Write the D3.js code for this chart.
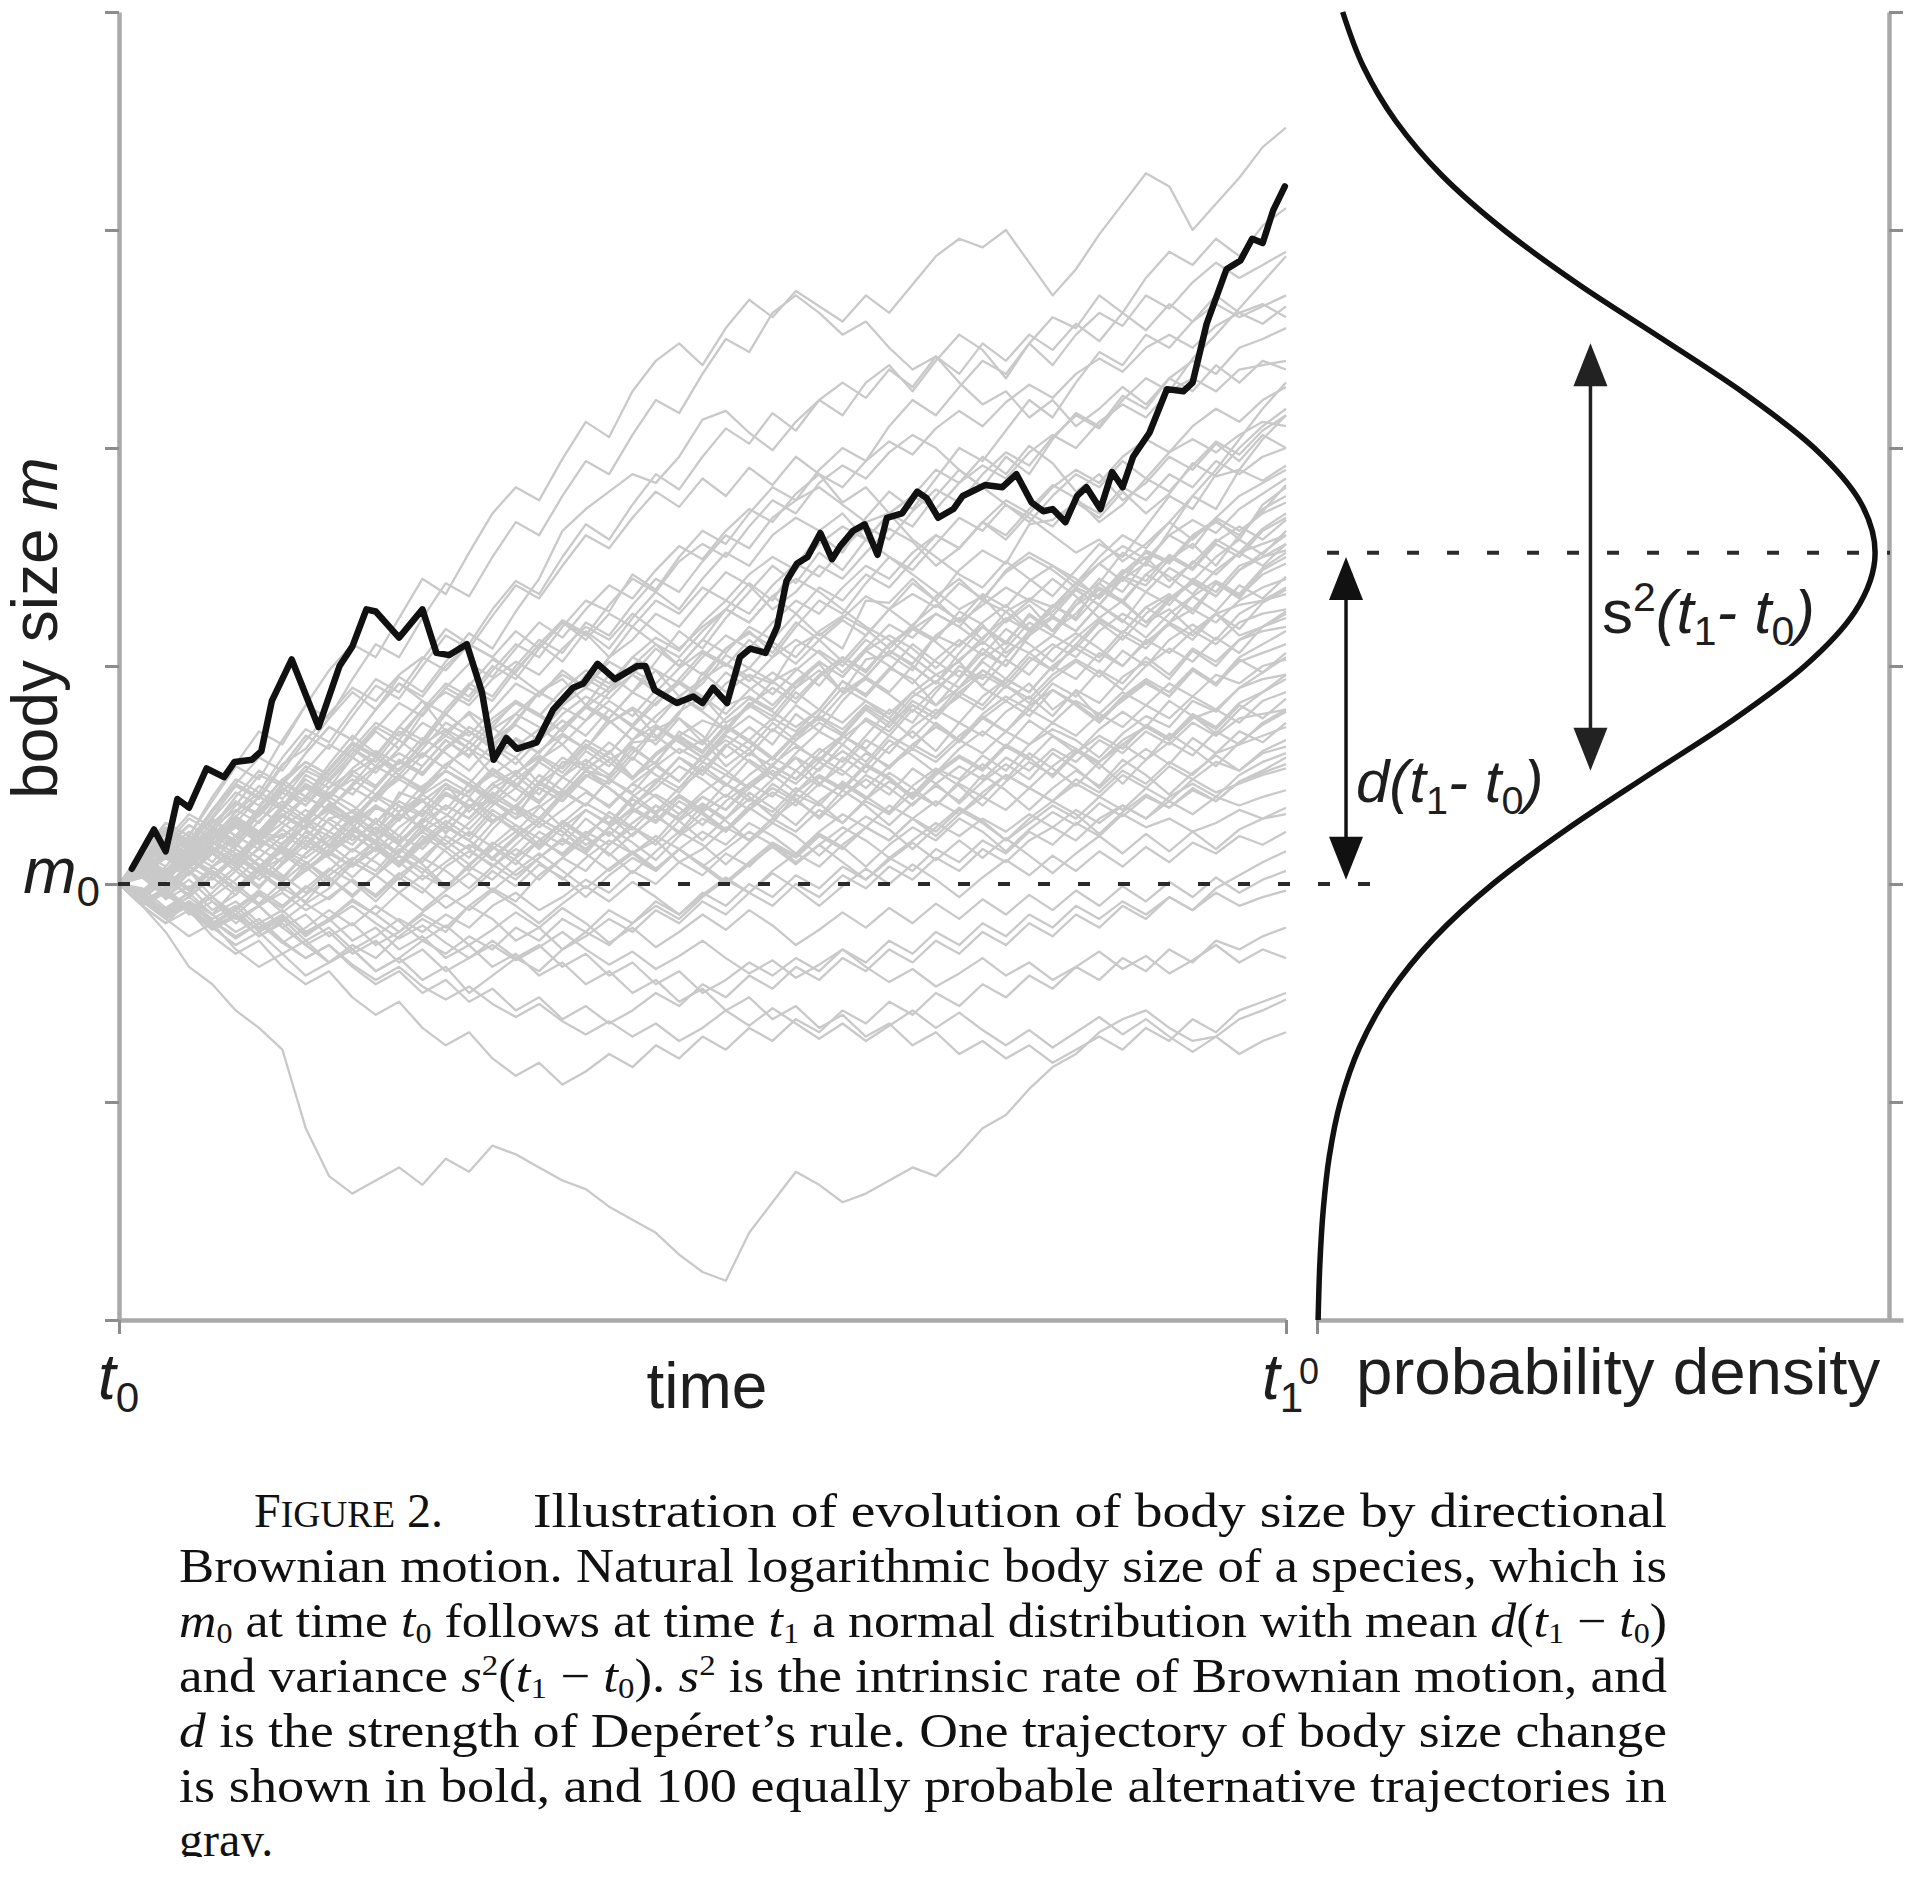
<!DOCTYPE html>
<html><head><meta charset="utf-8">
<script src="https://cdn.jsdelivr.net/npm/d3@7/dist/d3.min.js"></script>
<style>html,body{margin:0;padding:0;background:#fff;} svg{display:block;} text{white-space:pre;}</style>
</head><body>
<svg id="chart" width="1912" height="1888"></svg>
<script>
// ---------------- DATA ----------------
const yTickValues = [-200, -100, 0, 100, 200, 300, 400];
const xTickValues = [0, 100];
const m0Value = 0;
const meanValue = 152;
const sdValue = 96;

const boldTime = [1.1,3.0,4.0,5.0,6.0,7.5,9.0,9.9,11.4,12.2,13.1,14.8,17.1,18.9,20.0,21.2,22.0,24.0,26.0,27.2,28.3,29.8,31.1,32.1,33.2,34.1,35.8,37.2,38.9,39.8,41.0,42.5,44.4,45.1,45.9,47.8,49.2,50.0,50.9,52.1,53.2,54.1,55.4,56.4,57.2,58.1,59.0,60.1,61.1,61.8,62.9,63.9,65.0,65.8,67.1,68.4,69.2,70.2,71.5,72.3,74.2,75.7,76.9,78.2,79.2,80.0,81.1,82.1,82.9,84.1,85.1,86.0,86.9,88.3,89.8,91.2,92.0,93.2,94.9,96.1,97.1,98.0,98.9,99.9];
const boldSize = [7,25,15,39,35,53,49,56,57,61,84,103,72,100,109,126,125,113,126,106,105,110,88,57,67,62,65,80,90,92,101,94,100,100,89,83,86,83,90,83,104,108,106,118,139,147,150,161,149,155,162,165,151,168,170,180,177,168,172,178,183,182,188,175,171,172,166,178,182,172,189,182,196,207,227,226,230,257,282,286,296,294,309,320];

const grayTime = [0,2,4,6,8,10,12,14,16,18,20,22,24,26,28,30,32,34,36,38,40,42,44,46,48,50,52,54,56,58,60,62,64,66,68,70,72,74,76,78,80,82,84,86,88,90,92,94,96,98,100];
const graySizes = [
 [0,15,28,22,40,55,70,64,82,98,110,104,122,140,133,152,170,182,176,195,212,205,226,240,248,238,255,268,260,272,265,258,270,262,275,288,296,292,300,285,270,282,298,312,326,320,300,312,324,338,347],
 [0,8,18,30,24,36,50,45,60,72,66,80,95,88,102,115,108,125,140,162,172,180,188,184,196,213,217,207,199,212,222,215,230,238,226,240,252,245,232,248,260,255,270,262,278,290,284,296,288,302,310],
 [0,-5,8,20,14,28,40,35,50,44,58,70,62,78,90,84,98,110,104,118,130,125,142,135,150,162,156,170,182,176,190,200,194,210,222,215,228,240,234,248,238,252,262,256,270,264,276,285,278,284,290],
 [0,10,4,18,30,22,35,48,40,55,68,60,52,65,78,70,62,75,88,96,90,104,118,110,100,112,126,138,130,146,160,152,168,180,172,186,200,194,208,222,214,230,244,238,252,246,258,266,260,265,270],
 [0,6,-4,5,16,10,24,18,30,42,36,28,40,54,66,58,72,84,78,70,82,96,88,102,116,108,122,134,146,138,152,144,158,170,164,178,190,182,196,188,204,216,210,224,218,232,240,234,246,250,255],
 [0,14,26,20,34,46,58,52,66,78,90,84,96,104,98,110,104,116,108,120,112,124,118,130,124,136,130,142,150,144,156,164,158,170,178,172,184,192,186,198,206,200,212,220,214,226,232,226,236,238,240],
 [0,-8,-2,-12,-4,6,-2,10,20,14,26,36,30,42,52,46,58,66,60,72,82,76,88,98,92,104,114,108,120,130,124,136,146,140,152,160,154,166,176,170,182,190,184,196,204,198,210,218,212,222,228],
 [0,9,20,12,26,18,32,44,38,52,64,58,72,66,80,92,86,100,112,106,120,114,128,140,134,148,160,154,168,176,182,174,166,170,158,150,142,136,148,140,132,144,156,150,164,178,172,188,200,210,218],
 [0,-10,-18,-8,-14,-2,8,2,14,24,18,30,22,34,46,40,52,44,56,68,62,76,88,82,94,106,100,112,104,118,130,124,138,150,144,156,168,162,174,166,178,188,182,194,186,198,204,198,206,212,210],
 [0,12,6,18,10,22,34,28,40,34,46,58,50,62,74,68,80,92,86,98,90,102,96,108,100,112,106,118,112,124,136,130,142,136,148,160,154,166,158,170,164,176,170,182,176,188,182,194,188,196,200],
 [0,7,-4,11,15,6,24,21,31,17,23,35,30,39,23,36,38,30,47,41,52,49,65,66,78,97,88,96,92,109,115,108,130,129,140,130,144,153,147,165,167,175,168,180,170,179,193,187,190,185,192],
 [0,-6,7,5,14,30,18,23,16,30,33,23,42,38,46,33,44,50,41,56,55,65,57,71,76,65,82,86,80,92,101,88,103,105,98,114,122,112,125,131,127,138,147,139,153,148,160,167,158,174,182],
 [0,11,24,18,33,46,40,55,62,76,88,80,92,84,70,78,66,74,88,82,96,90,104,98,86,94,108,116,106,120,112,102,114,126,118,132,140,130,144,152,146,138,150,160,154,166,158,168,162,170,175],
 [0,4,-7,-1,-12,-5,6,-3,9,18,10,4,15,27,20,12,25,36,30,41,52,44,35,47,58,50,63,72,64,78,70,84,95,88,100,92,106,118,110,124,116,130,138,129,142,150,144,156,150,162,168],
 [0,9,2,15,26,20,32,44,36,50,62,56,70,64,78,90,84,98,110,102,116,108,122,134,126,140,152,146,160,168,162,170,158,150,142,134,126,132,120,128,116,124,136,130,142,136,148,142,152,156,160],
 [0,-4,5,-3,8,16,9,3,14,22,15,26,19,30,24,35,46,38,50,43,55,48,60,72,65,58,70,82,75,88,80,93,86,98,110,102,95,108,100,114,122,116,128,120,134,128,140,134,146,150,153],
 [0,7,15,9,20,14,6,12,24,18,30,22,14,25,36,30,42,35,28,40,52,46,58,50,44,56,68,62,74,66,78,90,84,76,88,96,90,102,94,106,114,108,120,112,124,132,126,138,132,142,147],
 [0,12,20,32,26,40,52,46,60,72,66,80,92,86,100,110,104,96,88,94,82,74,80,68,60,66,54,62,50,58,46,54,66,60,72,80,74,86,94,88,100,108,102,114,108,120,126,120,130,136,140],
 [0,-9,-3,-14,-8,-18,-10,-2,-8,4,12,6,18,10,22,16,28,36,30,42,36,48,42,54,62,56,50,60,54,66,74,68,80,72,84,78,90,98,92,104,98,110,104,116,110,120,114,124,128,130,133],
 [0,5,12,6,-2,8,16,10,22,14,26,20,32,26,18,28,38,32,44,38,50,44,36,46,58,52,64,56,48,60,70,64,76,70,82,76,88,82,94,88,100,94,106,100,112,106,116,110,120,124,126],
 [0,8,-2,6,-6,2,12,4,-4,6,16,10,2,12,22,16,8,18,28,22,34,28,40,48,42,54,46,38,48,58,52,64,56,68,62,74,66,78,86,80,92,86,98,92,104,96,108,102,112,116,118],
 [0,6,14,8,18,28,22,34,28,40,50,44,56,50,62,72,66,78,88,82,94,88,100,110,104,116,126,120,132,140,134,126,118,112,104,96,102,90,84,92,80,88,76,84,92,86,98,92,102,106,110],
 [0,-6,-14,-8,-16,-10,-20,-14,-24,-16,-8,-14,-4,4,-2,8,2,12,20,14,24,18,28,36,30,40,34,44,52,46,56,50,60,54,64,58,68,76,70,80,74,84,78,88,82,92,86,96,92,100,103],
 [0,10,4,14,8,18,12,22,30,24,34,28,20,28,36,30,40,34,26,34,42,36,46,40,32,42,50,44,54,48,58,52,44,54,62,56,66,60,70,64,74,68,78,72,82,76,86,80,90,94,96],
 [0,-8,-2,-12,-20,-14,-24,-18,-28,-36,-30,-40,-34,-44,-38,-50,-42,-34,-40,-30,-22,-28,-18,-10,-16,-6,2,-4,6,14,8,18,26,20,30,38,32,42,50,44,54,62,56,66,72,66,76,80,74,84,88],
 [0,7,14,8,16,10,20,14,6,14,22,16,8,18,26,20,12,22,30,24,16,26,34,28,38,32,24,34,42,36,46,40,50,44,36,46,54,48,58,52,62,56,66,60,70,64,74,68,76,78,80],
 [0,-5,4,-3,6,-2,-10,-4,-12,-6,2,-6,4,12,6,-2,8,16,10,2,12,20,14,6,16,24,18,28,22,14,24,32,26,36,30,22,32,40,34,44,38,48,42,52,46,56,50,60,64,68,72],
 [0,9,16,10,20,28,22,32,26,36,30,40,48,42,52,46,38,30,36,26,18,24,14,20,10,16,26,20,30,24,34,28,38,32,42,36,46,40,50,44,38,46,40,50,44,54,48,56,52,60,63],
 [0,-7,-14,-8,-18,-12,-22,-16,-26,-20,-30,-24,-16,-22,-14,-20,-10,-4,-12,-6,2,-4,6,0,10,4,14,8,18,12,22,16,26,20,30,24,34,28,20,28,36,30,40,34,44,38,48,42,46,50,53],
 [0,6,-2,8,2,12,6,-2,6,14,8,16,10,2,10,18,12,4,12,20,14,6,14,22,16,8,16,24,18,10,18,26,20,12,20,28,22,30,24,32,26,34,28,36,30,38,32,40,36,40,43],
 [0,-8,-16,-10,-20,-28,-22,-32,-26,-36,-30,-40,-34,-26,-32,-24,-30,-20,-26,-16,-22,-12,-18,-8,-14,-4,-10,0,-6,4,-2,8,2,12,6,16,10,20,14,24,18,28,22,32,26,30,24,28,34,30,32],
 [0,-6,-12,-4,-14,-22,-16,-26,-34,-28,-38,-46,-40,-50,-44,-54,-48,-58,-52,-62,-56,-64,-58,-50,-56,-46,-52,-42,-48,-38,-44,-34,-40,-30,-36,-26,-32,-22,-28,-18,-24,-14,-20,-10,-16,-6,-12,-2,4,10,15],
 [0,5,-4,-12,-6,-16,-10,-20,-28,-22,-32,-26,-36,-30,-40,-34,-26,-34,-28,-38,-32,-42,-36,-46,-40,-50,-44,-36,-42,-34,-40,-30,-36,-26,-32,-22,-28,-18,-24,-14,-20,-10,-16,-8,-14,-6,-12,-4,-10,-6,-3],
 [0,-10,-18,-12,-24,-32,-26,-38,-46,-40,-52,-60,-54,-66,-74,-68,-80,-88,-82,-92,-86,-78,-84,-74,-80,-70,-76,-66,-72,-62,-68,-58,-64,-54,-60,-50,-56,-46,-52,-42,-48,-38,-44,-34,-40,-30,-36,-26,-30,-24,-20],
 [0,-4,-12,-6,-14,-8,-18,-12,-22,-16,-26,-20,-30,-24,-34,-28,-38,-32,-42,-36,-46,-40,-50,-44,-54,-48,-58,-52,-62,-56,-66,-60,-70,-64,-74,-68,-78,-72,-80,-74,-82,-76,-70,-76,-66,-72,-62,-68,-58,-54,-50],
 [0,-10,-22,-38,-46,-58,-66,-76,-112,-134,-142,-136,-130,-138,-126,-132,-120,-124,-130,-136,-140,-148,-154,-160,-170,-178,-182,-160,-146,-132,-138,-146,-142,-136,-130,-134,-124,-112,-106,-94,-84,-78,-68,-62,-58,-66,-72,-70,-62,-58,-53],
 [0,8,18,12,26,34,28,42,54,48,60,72,66,80,92,86,100,94,108,120,114,128,140,134,148,156,150,164,176,170,184,192,186,198,206,200,190,182,174,168,160,152,158,148,156,166,178,190,204,218,230],
 [0,6,12,4,14,22,16,26,34,28,20,28,38,32,42,36,28,36,46,40,50,44,36,44,54,48,40,50,58,52,62,56,68,80,74,88,100,94,108,120,114,128,140,134,148,160,154,168,178,184,190],
 [0,-8,-16,-24,-18,-30,-38,-32,-42,-36,-28,-34,-24,-16,-22,-10,-2,-8,4,12,6,18,26,20,32,40,34,46,54,48,60,68,62,74,82,76,88,96,90,102,110,104,116,124,118,130,138,132,144,152,160],
 [0,10,20,14,26,38,32,46,56,50,62,74,68,80,88,82,94,102,96,108,118,112,124,116,108,118,126,120,132,124,114,122,132,126,138,130,120,128,136,130,140,132,122,130,120,126,116,124,114,118,122],
 [0,4,-6,2,-8,-16,-10,-20,-14,-24,-18,-28,-22,-14,-20,-10,-16,-26,-20,-30,-24,-16,-22,-12,-18,-8,-14,-4,-10,0,-6,4,-2,8,2,12,6,16,10,20,26,20,30,36,30,40,46,40,50,56,60],
 [0,12,24,18,30,42,36,48,56,50,62,54,66,58,70,62,50,58,46,54,66,60,72,64,76,68,58,66,76,70,80,74,84,78,88,82,94,106,100,114,128,122,138,152,146,162,178,172,190,204,215],
 [0,9,3,-5,8,14,6,19,27,22,15,24,36,31,44,40,29,35,47,58,52,61,49,56,68,75,71,83,77,90,98,88,95,107,101,114,109,120,128,117,125,136,131,142,150,139,147,158,152,163,170],
 [0,-7,2,11,5,-3,4,17,12,20,31,25,18,29,41,35,46,52,44,38,49,57,63,55,70,64,76,85,79,72,80,93,87,99,94,82,90,103,111,106,98,110,121,115,127,133,124,138,131,144,150],
 [0,13,6,17,25,19,8,15,27,34,29,41,36,24,31,43,50,45,57,64,53,60,72,67,79,86,74,81,93,99,91,104,97,110,118,112,125,119,106,114,127,135,128,141,137,149,156,146,160,172,178],
 [0,-4,-13,-6,3,-5,7,1,-9,-2,10,4,16,9,-1,8,19,13,24,18,30,22,33,41,35,27,38,46,40,52,45,58,51,63,70,61,74,68,79,86,77,89,83,95,102,94,107,100,112,118,125],
 [0,6,15,24,18,29,23,35,46,40,33,44,57,51,63,70,64,58,69,81,75,88,96,90,83,92,105,99,111,104,116,123,117,108,119,128,121,133,127,139,146,140,131,143,152,147,159,166,160,171,183],
 [0,-9,-3,-12,-20,-14,-5,-11,-2,7,1,-8,3,-4,8,15,9,2,12,21,14,26,19,11,22,30,24,35,28,41,36,47,40,33,45,53,48,59,52,64,71,66,58,69,77,72,84,79,90,97,104],
 [0,11,21,16,28,37,31,43,52,47,58,51,62,74,68,79,72,63,71,82,90,85,96,88,99,107,101,93,104,112,106,97,108,119,113,124,118,130,125,116,127,138,132,144,139,151,145,157,164,158,167],
 [0,3,-6,5,14,8,-1,9,18,12,3,13,22,16,27,20,11,21,30,24,15,26,35,29,40,33,25,36,44,38,49,43,54,48,39,50,58,52,63,57,68,62,53,64,72,66,77,71,82,76,85],
 [0,8,1,12,20,29,23,16,27,35,44,38,50,43,55,62,56,67,60,72,81,75,66,77,86,80,92,99,93,85,96,104,98,110,117,111,102,113,122,116,128,121,133,140,134,145,139,150,158,151,162],
 [0,-5,4,12,6,-2,7,16,10,1,11,20,14,24,17,9,18,27,21,13,23,31,25,36,29,20,30,39,33,44,37,28,39,47,41,52,45,36,47,56,50,61,55,46,57,65,59,70,64,74,80],
 [0,10,18,12,23,31,40,34,45,39,51,58,52,64,71,65,76,84,77,70,81,90,98,92,103,96,108,115,109,101,112,121,114,126,133,127,138,131,143,150,144,136,147,155,149,160,167,161,172,179,186],
 [0,-8,-15,-9,-18,-11,-3,-10,-1,-7,2,-5,5,-2,-11,-4,6,-1,9,3,-6,4,12,6,16,9,1,10,19,13,23,17,8,18,26,20,30,24,15,25,33,27,37,31,40,35,43,38,47,52,58],
 [0,7,14,22,16,9,20,28,21,33,27,19,30,38,32,25,36,44,37,49,43,35,46,54,47,59,52,44,55,63,57,68,61,53,64,72,66,77,70,82,89,83,75,86,94,88,99,92,104,110,116],
 [0,12,5,16,24,17,29,38,31,44,52,45,57,50,62,70,63,55,66,75,68,80,73,85,93,86,78,89,97,90,102,95,107,114,108,99,110,118,111,123,116,128,135,129,120,131,139,132,144,150,156],
 [0,-3,6,-2,8,0,-9,1,10,3,-6,4,13,7,-2,9,17,11,2,12,21,14,5,15,24,18,9,19,28,22,13,23,31,25,16,26,35,29,20,30,38,32,23,33,41,35,44,38,47,51,55],
 [0,9,17,11,21,30,24,36,44,38,30,41,50,44,55,48,40,51,59,53,64,58,49,60,68,61,73,66,58,69,77,71,82,76,67,78,86,80,91,85,96,103,97,89,100,108,102,113,106,118,124],
 [0,-6,3,11,4,13,21,14,6,16,25,19,10,20,29,22,34,27,18,28,37,31,22,32,41,34,46,40,31,42,50,44,55,49,40,51,59,53,64,58,49,60,68,62,73,67,78,72,83,88,94],
 [0,14,8,20,29,22,34,42,36,47,41,53,60,54,66,59,71,78,72,64,75,84,77,89,82,94,101,95,87,98,107,100,112,105,117,124,118,110,121,130,123,135,128,140,147,141,133,144,152,146,156],
 [0,-10,-4,-13,-21,-15,-24,-17,-9,-16,-7,-14,-22,-13,-5,-12,-3,-10,-18,-9,-1,-8,1,-6,-14,-5,3,-4,5,-2,-10,-1,7,0,9,2,-6,3,11,4,13,6,15,8,17,10,19,14,22,18,24],
 [0,5,13,7,18,26,19,31,25,17,28,36,29,41,48,42,53,46,38,49,57,50,62,55,47,58,66,59,71,64,56,67,75,68,80,73,65,76,84,77,89,82,74,85,93,86,98,91,103,97,106],
 [0,8,-1,9,17,10,2,12,20,13,25,18,9,19,27,20,32,25,16,26,34,27,39,32,23,33,41,34,46,39,30,40,48,41,53,46,37,47,55,48,60,53,44,54,62,55,67,60,70,65,74],
 [0,11,4,15,23,31,24,36,29,41,48,41,53,60,53,65,58,50,61,69,62,74,81,74,86,79,71,82,90,83,95,102,95,107,100,92,103,111,104,116,123,116,128,121,113,124,132,125,137,131,141],
 [0,-2,-11,-4,6,-3,7,15,8,-1,9,17,10,22,15,6,16,24,17,29,22,13,23,31,24,36,29,20,30,38,31,43,36,27,37,45,38,50,43,34,44,52,45,57,50,41,51,59,52,61,66],
 [0,6,15,9,19,12,24,32,25,37,30,22,33,41,34,46,39,51,58,51,63,56,48,59,67,60,72,65,57,68,76,69,81,74,86,93,86,98,91,83,94,102,95,107,100,112,119,112,124,130,136],
 [0,-7,-15,-8,-17,-25,-18,-27,-20,-12,-19,-10,-17,-26,-19,-28,-21,-13,-20,-11,-18,-27,-20,-29,-22,-14,-21,-12,-19,-28,-21,-13,-20,-11,-18,-9,-16,-7,-14,-5,-12,-3,-10,-1,-8,1,-6,3,-4,2,6],
 [0,10,3,13,22,16,8,18,27,35,28,40,33,45,52,45,37,48,56,49,61,54,66,73,66,58,69,77,70,82,75,87,94,87,79,90,98,91,103,96,108,115,108,100,111,119,112,124,117,129,135],
 [0,4,12,21,14,6,17,25,18,30,23,15,26,34,27,39,32,24,35,43,36,48,41,33,44,52,45,57,50,42,53,61,54,66,59,51,62,70,63,75,68,60,71,79,72,84,77,69,80,88,96],
 [0,-5,3,-6,4,12,5,-3,7,15,8,20,13,5,16,24,17,9,20,28,21,33,26,18,29,37,30,42,35,27,38,46,39,51,44,36,47,55,48,60,53,45,56,64,57,69,62,54,65,73,79],
 [0,9,18,27,21,33,42,36,48,41,53,61,55,67,60,52,64,73,66,78,86,80,72,83,92,85,97,90,82,93,102,95,107,100,92,103,112,105,117,110,102,113,122,115,127,120,132,139,133,145,152],
 [0,-9,-2,-11,-19,-12,-4,-13,-5,3,-5,4,-4,-12,-3,5,-3,6,14,6,-2,7,15,7,16,8,0,9,17,9,18,10,2,11,19,11,20,12,21,13,5,14,22,14,23,15,24,16,25,30,35],
 [0,12,25,19,34,48,42,58,71,65,80,94,88,103,117,110,126,139,133,150,165,158,174,188,181,196,209,202,216,208,222,230,223,236,228,242,234,248,240,252,245,257,249,262,254,266,258,270,262,266,260],
 [0,14,28,22,38,54,48,66,82,76,94,110,104,122,138,132,150,166,160,178,194,188,206,222,216,234,250,244,262,270,262,252,258,246,236,242,230,220,226,214,222,210,218,228,220,232,226,238,230,240,236],
 [0,6,16,27,21,33,45,39,52,64,58,71,83,77,90,101,95,108,120,113,126,137,131,144,155,149,162,172,166,179,188,182,194,203,197,209,217,210,221,229,223,234,241,235,246,252,246,256,262,257,265],
 [0,11,23,17,31,45,39,54,68,62,77,91,85,100,114,108,123,137,131,146,160,154,168,180,173,186,178,191,183,196,188,175,182,170,178,190,184,196,188,201,193,180,188,176,184,196,190,202,194,206,200],
 [0,5,13,8,18,27,21,31,40,34,45,54,48,59,68,62,74,83,77,89,98,92,104,113,107,120,130,124,137,147,141,154,164,158,171,181,175,188,198,192,205,215,209,222,232,226,241,252,264,276,288],
 [0,9,2,14,26,20,33,46,40,53,65,59,72,84,78,91,103,97,110,121,115,104,112,124,118,131,143,137,126,134,146,140,152,163,157,146,154,166,160,172,183,177,166,174,186,180,192,203,197,208,215],
 [0,-6,-13,-8,-17,-24,-18,-27,-34,-28,-37,-44,-38,-47,-53,-47,-55,-61,-55,-63,-69,-63,-70,-64,-72,-66,-58,-65,-57,-64,-71,-64,-72,-65,-58,-66,-59,-67,-74,-67,-75,-68,-61,-69,-62,-70,-77,-70,-78,-72,-68],
 [0,3,-5,-12,-6,-14,-21,-15,-23,-17,-10,-18,-25,-19,-27,-34,-28,-35,-29,-22,-30,-37,-31,-39,-33,-26,-34,-41,-35,-43,-37,-30,-38,-45,-39,-47,-41,-34,-42,-36,-44,-38,-31,-39,-33,-41,-35,-28,-36,-30,-34]
];

const densityLevels = [-200,-175,-150,-125,-100,-75,-50,-25,0,25,50,75,100,125,152,175,200,225,250,275,300,325,350,375,400];
const densityValues = [0.002,0.005,0.011,0.022,0.042,0.076,0.130,0.209,0.315,0.447,0.594,0.744,0.874,0.964,1.000,0.974,0.891,0.766,0.619,0.469,0.335,0.224,0.141,0.083,0.046];

// ---------------- DRAW ----------------
const svg = d3.select('#chart');
const SANS = '"Liberation Sans", Arial, Helvetica, sans-serif';
const SERIF = '"Liberation Serif", "Times New Roman", serif';
const INK = '#1e1e1e';
const AXIS = '#a9a9a9';

const x = d3.scaleLinear().domain([0, 100]).range([119, 1286]);
const y = d3.scaleLinear().domain([-200, 400]).range([1320, 12]);
const dens = d3.scaleLinear().domain([0, 1.05]).range([1317, 1903]);

function styleAxis(g) {
  g.select('.domain').attr('stroke', AXIS).attr('stroke-width', 4.5);
  g.selectAll('.tick line').attr('stroke', '#8c8c8c').attr('stroke-width', 3);
}

// gray trajectories
const grayLine = d3.line().x((d, i) => x(grayTime[i])).y(d => y(d));
svg.append('g').selectAll('path').data(graySizes).join('path')
  .attr('d', grayLine).attr('fill', 'none')
  .attr('stroke', '#c9c9c9').attr('stroke-width', 2.3).attr('stroke-linejoin', 'round');

// axes left panel
svg.append('g').attr('transform', `translate(${x(0)},0)`)
  .call(d3.axisLeft(y).tickValues(yTickValues).tickSize(14).tickSizeOuter(0).tickFormat(''))
  .call(styleAxis);
svg.append('g').attr('transform', `translate(0,${y(-200)})`)
  .call(d3.axisBottom(x).tickValues(xTickValues).tickSize(14).tickSizeOuter(0).tickFormat(''))
  .call(styleAxis);

// axes right panel
svg.append('g').attr('transform', `translate(1889,0)`)
  .call(d3.axisRight(y).tickValues(yTickValues).tickSize(14).tickSizeOuter(0).tickFormat(''))
  .call(styleAxis);
svg.append('g').attr('transform', `translate(0,${y(-200)})`)
  .call(d3.axisBottom(dens).tickValues([0]).tickSize(14).tickSizeOuter(0).tickFormat(''))
  .call(styleAxis);

// dashed reference lines
svg.append('line')
  .attr('x1', x(0) - 1).attr('x2', dens(0.13)).attr('y1', y(m0Value)).attr('y2', y(m0Value))
  .attr('stroke', '#2a2a2a').attr('stroke-width', 4).attr('stroke-dasharray', '12,28');
svg.append('line')
  .attr('x1', dens(0.018)).attr('x2', 1890).attr('y1', y(meanValue)).attr('y2', y(meanValue))
  .attr('stroke', '#2a2a2a').attr('stroke-width', 4).attr('stroke-dasharray', '12,28');

// bold trajectory
const boldLine = d3.line().x((d, i) => x(boldTime[i])).y(d => y(d));
svg.append('path').datum(boldSize).attr('d', boldLine).attr('fill', 'none')
  .attr('stroke', '#111').attr('stroke-width', 6.5).attr('stroke-linejoin', 'round').attr('stroke-linecap', 'round');

// density curve
const densData = densityLevels.map((v, i) => ({v, p: densityValues[i]}));
svg.append('path').datum(densData)
  .attr('d', d3.line().x(d => dens(d.p)).y(d => y(d.v)).curve(d3.curveMonotoneY))
  .attr('fill', 'none').attr('stroke', '#111').attr('stroke-width', 5.5);

// double arrows
function doubleArrow(px, v1, v2, color) {
  const yTop = y(v2), yBot = y(v1), L = 43, W = 17;
  svg.append('line').attr('x1', px).attr('x2', px).attr('y1', yTop + L - 4).attr('y2', yBot - L + 4)
    .attr('stroke', color).attr('stroke-width', 3.5);
  svg.append('path').attr('d', `M${px},${yTop} L${px - W},${yTop + L} L${px + W},${yTop + L} Z`).attr('fill', color);
  svg.append('path').attr('d', `M${px},${yBot} L${px - W},${yBot - L} L${px + W},${yBot - L} Z`).attr('fill', color);
}
doubleArrow(dens(0.052), m0Value + 2, meanValue - 2, '#111');
doubleArrow(dens(0.49), meanValue - sdValue - 4, meanValue + sdValue, '#222');

// rich text helper
function rich(sel, segs, fs, subShift, subScale) {
  const sb = subShift == null ? 0.2 : subShift, sc = subScale || 0.66;
  let off = 0;
  segs.forEach(([t, s]) => {
    const ts = sel.append('tspan').text(t);
    let target = 0, size = fs, st = 'normal';
    if (s.includes('i')) st = 'italic';
    if (s.includes('n')) st = 'normal';
    if (s.includes('b')) { target = fs * sb; size = fs * sc; }
    if (s.includes('p')) { target = -fs * 0.36; size = fs * sc; }
    if (s.includes('c')) { size = fs * 0.78; }
    ts.attr('font-size', size).attr('font-style', st);
    if (target - off !== 0) ts.attr('dy', target - off);
    off = target;
  });
  return sel;
}
function label(xp, yp, segs, fs, anchor) {
  const t = svg.append('text').attr('x', xp).attr('y', yp).attr('font-family', SANS)
    .attr('fill', INK).attr('text-anchor', anchor || 'start');
  return rich(t, segs, fs);
}

label(100, 893, [['m', 'i'], ['0', 'b']], 64, 'end');
label(98, 1399, [['t', 'i'], ['0', 'b']], 64);
label(707, 1408, [['time', '']], 64, 'middle');
label(1262, 1399, [['t', 'i'], ['1', 'b']], 64);
label(1319, 1384, [['0', '']], 36, 'end');
label(1356, 1394, [['probability density', '']], 65.5);
label(1356, 802, [['d(', 'i'], ['t', 'i'], ['1', 'bn'], ['- ', 'i'], ['t', 'i'], ['0', 'bn'], [')', 'i']], 60);
label(1602, 633, [['s', ''], ['2', 'p'], ['(', 'i'], ['t', 'i'], ['1', 'bn'], ['- ', 'i'], ['t', 'i'], ['0', 'bn'], [')', 'i']], 62);

svg.append('text').attr('transform', 'translate(57,628) rotate(-90)')
  .attr('font-family', SANS).attr('fill', INK).attr('font-size', 64).attr('text-anchor', 'middle')
  .call(s => rich(s, [['body size ', ''], ['m', 'i']], 64));

// ---------------- CAPTION ----------------
const clip = svg.append('clipPath').attr('id', 'capclip');
clip.append('rect').attr('x', 0).attr('y', 1440).attr('width', 1912).attr('height', 417);
const cap = svg.append('g').attr('clip-path', 'url(#capclip)').attr('font-family', SERIF).attr('fill', '#111');
const CFS = 48;
function capLine(xp, yp, w, segs) {
  const t = cap.append('text').attr('x', xp).attr('y', yp).attr('font-size', CFS);
  if (w) t.attr('textLength', w).attr('lengthAdjust', 'spacingAndGlyphs');
  rich(t, segs, CFS, 0.12, 0.62);
}
capLine(254, 1527, null, [['F', ''], ['IGURE', 'c'], [' 2.', '']]);
capLine(533, 1527, 1134, [['Illustration of evolution of body size by directional', '']]);
capLine(179, 1582, 1488, [['Brownian motion. Natural logarithmic body size of a species, which is', '']]);
capLine(179, 1637, 1488, [['m', 'i'], ['0', 'b'], [' at time ', ''], ['t', 'i'], ['0', 'b'], [' follows at time ', ''], ['t', 'i'], ['1', 'b'], [' a normal distribution with mean ', ''], ['d', 'i'], ['(', ''], ['t', 'i'], ['1', 'b'], [' − ', ''], ['t', 'i'], ['0', 'b'], [')', '']]);
capLine(179, 1692, 1488, [['and variance ', ''], ['s', 'i'], ['2', 'p'], ['(', ''], ['t', 'i'], ['1', 'b'], [' − ', ''], ['t', 'i'], ['0', 'b'], ['). ', ''], ['s', 'i'], ['2', 'p'], [' is the intrinsic rate of Brownian motion, and', '']]);
capLine(179, 1747, 1488, [['d', 'i'], [' is the strength of Depéret’s rule. One trajectory of body size change', '']]);
capLine(179, 1802, 1488, [['is shown in bold, and 100 equally probable alternative trajectories in', '']]);
capLine(179, 1856, null, [['gray.', '']]);
</script>
</body></html>
